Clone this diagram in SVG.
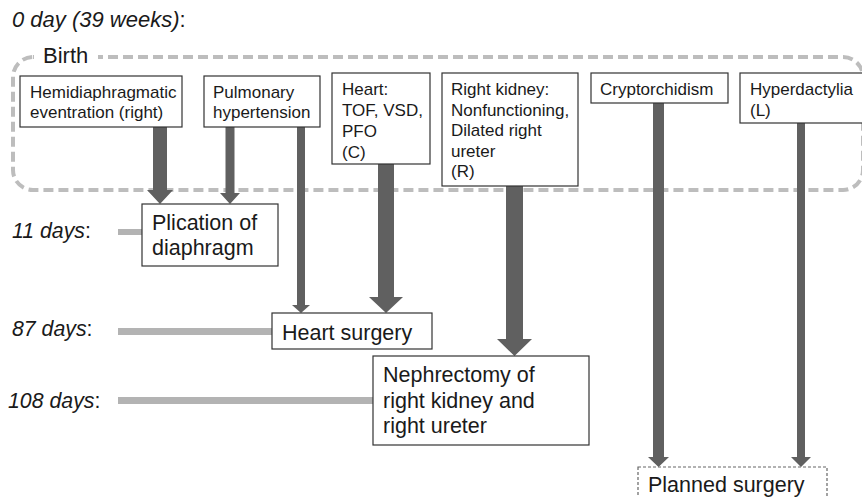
<svg xmlns="http://www.w3.org/2000/svg" width="862" height="497" viewBox="0 0 862 497">
<style>
text{font-family:"Liberation Sans",Arial,sans-serif;fill:#1a1a1a}
.t{font-size:17px}
.b{font-size:21.5px}
.day{font-size:21.3px;font-style:italic}
.box{fill:#fff;stroke:#333;stroke-width:1.2}
.arr{fill:#606060}
.bar{fill:#b3b3b3}
</style>
<rect width="862" height="497" fill="#fff"/>
<g id="birth">
<rect x="13" y="57" width="850" height="133" rx="20" ry="20" fill="none" stroke="#bdbdbd" stroke-width="4" stroke-dasharray="10,5"/>
<rect x="34" y="42" width="64" height="26" fill="#fff"/>
<text x="43" y="63" style="font-size:22px">Birth</text>
</g>
<text x="12" y="27" class="day" style="font-size:22px">0 day (39 weeks)<tspan style="font-style:normal">:</tspan></text>
<g id="timeline">
<text x="12" y="238" class="day">11 days<tspan style="font-style:normal">:</tspan></text>
<text x="12" y="336" class="day">87 days<tspan style="font-style:normal">:</tspan></text>
<text x="8" y="408" class="day">108 days<tspan style="font-style:normal">:</tspan></text>
<rect class="bar" x="118" y="229" width="24" height="6"/>
<rect class="bar" x="118" y="328" width="154" height="7"/>
<rect class="bar" x="118" y="397" width="255" height="7"/>
</g>
<g id="connectors">
<path class="arr" d="M153,127H167V190H173L160,204L147,190H153Z"/>
<path class="arr" d="M225.5,127H234.5V193H240L230,204L220,193H225.5Z"/>
<path class="arr" d="M297,127H305V305H310L301,313L292,305H297Z"/>
<path class="arr" d="M378,164H394V297H403L386,313L369,297H378Z"/>
<path class="arr" d="M506,186H523V339H532L514.5,356L497,339H506Z"/>
<path class="arr" d="M653,103H664V457H669L658.5,467L648,457H653Z"/>
<path class="arr" d="M797,123H805V457H811L801,467L791,457H797Z"/>
</g>
<g id="hemi">
<rect class="box" x="20" y="76" width="162" height="51"/>
<text class="t" x="30" y="98">Hemidiaphragmatic</text>
<text class="t" x="30" y="118">eventration (right)</text>
</g>
<g id="pulm">
<rect class="box" x="204" y="76" width="116" height="51"/>
<text class="t" x="213" y="98">Pulmonary</text>
<text class="t" x="213" y="118">hypertension</text>
</g>
<g id="heart">
<rect class="box" x="332" y="73" width="98" height="91"/>
<text class="t" x="342" y="95">Heart:</text>
<text class="t" x="342" y="116">TOF, VSD,</text>
<text class="t" x="342" y="137">PFO</text>
<text class="t" x="342" y="158">(C)</text>
</g>
<g id="kidney">
<rect class="box" x="442" y="73" width="136" height="113"/>
<text class="t" x="451" y="95">Right kidney:</text>
<text class="t" x="451" y="115.5">Nonfunctioning,</text>
<text class="t" x="451" y="136">Dilated right</text>
<text class="t" x="451" y="156.5">ureter</text>
<text class="t" x="451" y="177">(R)</text>
</g>
<g id="crypto">
<rect class="box" x="591" y="73" width="137" height="30"/>
<text class="t" x="600" y="95">Cryptorchidism</text>
</g>
<g id="hyper">
<rect class="box" x="740" y="73" width="130" height="50"/>
<text class="t" x="750" y="95">Hyperdactylia</text>
<text class="t" x="750" y="116">(L)</text>
</g>
<g id="plication">
<rect class="box" x="142" y="204" width="136" height="62"/>
<text class="b" x="152" y="230">Plication of</text>
<text class="b" x="152" y="255">diaphragm</text>
</g>
<g id="heartsurgery">
<rect class="box" x="272" y="313" width="160" height="36"/>
<text class="b" x="282" y="340">Heart surgery</text>
</g>
<g id="nephrectomy">
<rect class="box" x="373" y="356" width="216" height="89"/>
<text class="b" x="383" y="382">Nephrectomy of</text>
<text class="b" x="383" y="407.5">right kidney and</text>
<text class="b" x="383" y="433">right ureter</text>
</g>
<g id="planned">
<rect x="638" y="467" width="189" height="50" fill="#fff" stroke="#666" stroke-width="1.2" stroke-dasharray="3,2"/>
<text class="b" x="648" y="492">Planned surgery</text>
</g>
</svg>
